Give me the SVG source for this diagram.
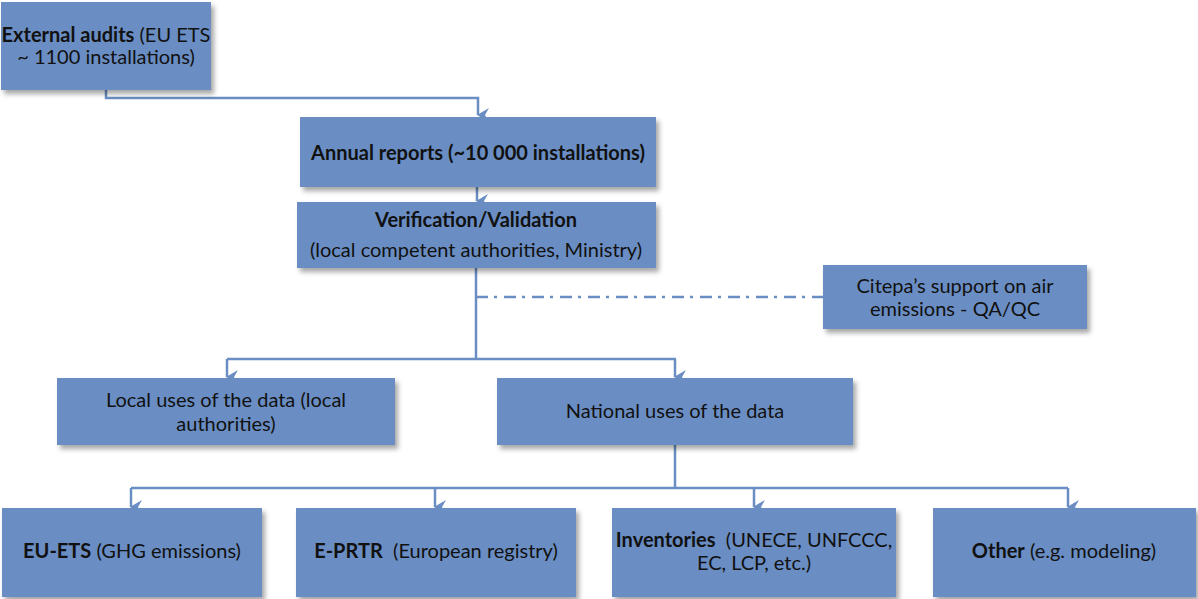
<svg xmlns="http://www.w3.org/2000/svg" width="1198" height="599" viewBox="0 0 1198 599">
  <style>
    .box { fill: #6A8EC3; filter: url(#shadow); }
    .t { font-family: Lato, "Open Sans", sans-serif; font-size: 20px; fill: #111; text-anchor: middle; white-space: pre; }
    .b { font-weight: bold; }
    .ln { fill: none; stroke: #6A8EC3; stroke-width: 2.5; }
    .dd { fill: none; stroke: #6A8EC3; stroke-width: 2.5; stroke-dasharray: 12 6 3 7; }
  </style>
  <defs>
    <filter id="shadow" x="-10%" y="-20%" width="125%" height="150%">
      <feDropShadow dx="3" dy="4" stdDeviation="2.5" flood-color="#000" flood-opacity="0.35"/>
    </filter>
    <marker id="arrow" viewBox="0 0 14 14" refX="7" refY="13" markerWidth="14" markerHeight="14" markerUnits="userSpaceOnUse" orient="auto-start-reverse">
      <path d="M0,2 L7,14 L14,2 L7,6 Z" fill="#6A8EC3"/>
    </marker>
  </defs>

  <g id="connectors">
    <path class="ln" d="M106,90 V98 H478 V115" marker-end="url(#arrow)"/>
    <path class="ln" d="M477,187 V201" marker-end="url(#arrow)"/>
    <path class="ln" d="M476,268 V359"/>
    <path class="dd" d="M476,297 H823"/>
    <path class="ln" d="M227,359 H676"/>
    <path class="ln" d="M227,359 V377" marker-end="url(#arrow)"/>
    <path class="ln" d="M675,359 V377" marker-end="url(#arrow)"/>
    <path class="ln" d="M675,445 V488"/>
    <path class="ln" d="M131,488 H1068"/>
    <path class="ln" d="M131,488 V507" marker-end="url(#arrow)"/>
    <path class="ln" d="M435,488 V507" marker-end="url(#arrow)"/>
    <path class="ln" d="M754,488 V507" marker-end="url(#arrow)"/>
    <path class="ln" d="M1068,488 V507" marker-end="url(#arrow)"/>
  </g>

  <g id="external-audits">
    <rect class="box" x="1" y="2" width="210" height="88"/>
    <text class="t" x="106" y="42"><tspan class="b">External audits</tspan> (EU ETS</text>
    <text class="t" x="106" y="64">~ 1100 installations)</text>
  </g>

  <g id="annual-reports">
    <rect class="box" x="300" y="117" width="356" height="70"/>
    <text class="t b" x="478" y="160">Annual reports (~10 000 installations)</text>
  </g>

  <g id="verification">
    <rect class="box" x="297" y="202" width="359" height="66"/>
    <text class="t b" x="476" y="227">Verification/Validation</text>
    <text class="t" x="476" y="257">(local competent authorities, Ministry)</text>
  </g>

  <g id="citepa-support">
    <rect class="box" x="823" y="265" width="264" height="64"/>
    <text class="t" x="955" y="293">Citepa’s support on air</text>
    <text class="t" x="955" y="316">emissions - QA/QC</text>
  </g>

  <g id="local-uses">
    <rect class="box" x="57" y="378" width="338" height="67"/>
    <text class="t" x="226" y="407">Local uses of the data (local</text>
    <text class="t" x="226" y="431">authorities)</text>
  </g>

  <g id="national-uses">
    <rect class="box" x="497" y="378" width="356" height="67"/>
    <text class="t" x="675" y="418">National uses of the data</text>
  </g>

  <g id="eu-ets">
    <rect class="box" x="2" y="508" width="260" height="89"/>
    <text class="t" x="132" y="558"><tspan class="b">EU-ETS</tspan> (GHG emissions)</text>
  </g>

  <g id="e-prtr">
    <rect class="box" x="296" y="508" width="280" height="89"/>
    <text class="t" x="436" y="558"><tspan class="b">E-PRTR</tspan>  (European registry)</text>
  </g>

  <g id="inventories">
    <rect class="box" x="612" y="508" width="284" height="89"/>
    <text class="t" x="754" y="547"><tspan class="b">Inventories</tspan>  (UNECE, UNFCCC,</text>
    <text class="t" x="754" y="570">EC, LCP, etc.)</text>
  </g>

  <g id="other">
    <rect class="box" x="933" y="508" width="263" height="89"/>
    <text class="t" x="1064" y="558"><tspan class="b">Other</tspan> (e.g. modeling)</text>
  </g>
</svg>
